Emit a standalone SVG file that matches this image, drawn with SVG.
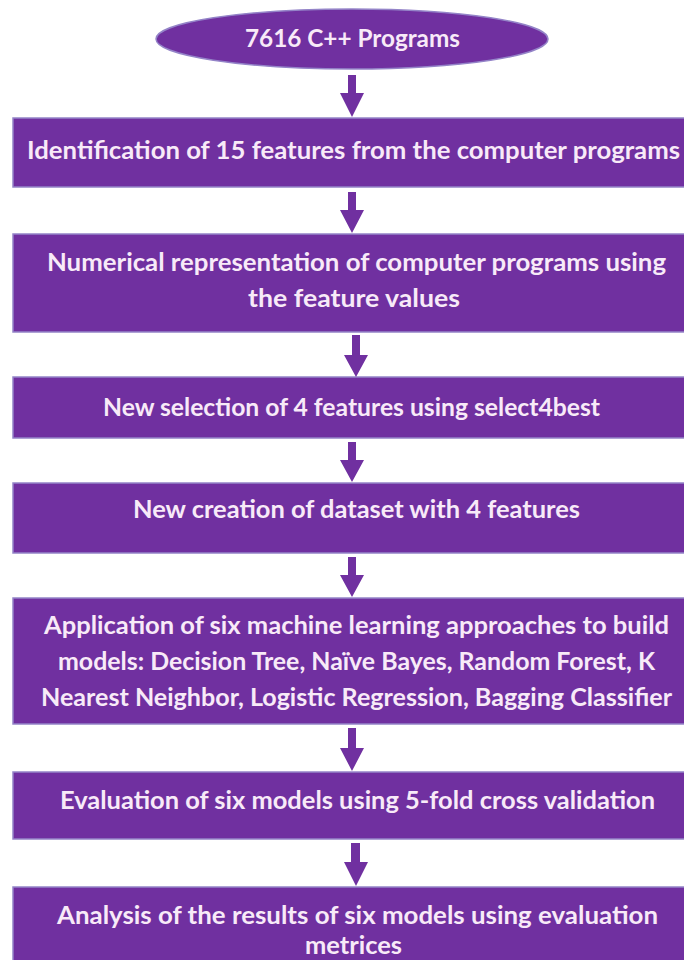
<svg xmlns="http://www.w3.org/2000/svg" width="684" height="960" viewBox="0 0 684 960">
<style>
.box{fill:#7030A0;stroke:#9484C8;stroke-width:1.5}
.t{font-family:Lato,"Open Sans","Liberation Sans",sans-serif;font-weight:bold;font-size:24px;fill:#F8EAF8;text-anchor:middle}
.arr{fill:#7030A0}
</style>
<rect width="684" height="960" fill="#ffffff"/>
<g id="n0">
<ellipse cx="352" cy="39" rx="196" ry="30" class="box"/>
<text class="t" x="352.5" y="47" textLength="215" lengthAdjust="spacingAndGlyphs">7616 C++ Programs</text>
</g>
<g id="n1">
<rect x="13" y="118" width="675" height="69" class="box"/>
<text class="t" x="353.5" y="159" textLength="653" lengthAdjust="spacingAndGlyphs">Identification of 15 features from the computer programs</text>
</g>
<g id="n2">
<rect x="13" y="234" width="675" height="98" class="box"/>
<text class="t" x="356.5" y="271" textLength="619" lengthAdjust="spacingAndGlyphs">Numerical representation of computer programs using</text>
<text class="t" x="354" y="307" textLength="212" lengthAdjust="spacingAndGlyphs">the feature values</text>
</g>
<g id="n3">
<rect x="13" y="377" width="675" height="61" class="box"/>
<text class="t" x="351.5" y="416" textLength="497" lengthAdjust="spacingAndGlyphs">New selection of 4 features using select4best</text>
</g>
<g id="n4">
<rect x="13" y="483" width="675" height="70" class="box"/>
<text class="t" x="356.5" y="518" textLength="447" lengthAdjust="spacingAndGlyphs">New creation of dataset with 4 features</text>
</g>
<g id="n5">
<rect x="13" y="598" width="675" height="126" class="box"/>
<text class="t" x="356.5" y="634" textLength="625" lengthAdjust="spacingAndGlyphs">Application of six machine learning approaches to build</text>
<text class="t" x="356.5" y="670" textLength="597" lengthAdjust="spacingAndGlyphs">models: Decision Tree, Naïve Bayes, Random Forest, K</text>
<text class="t" x="356.5" y="706" textLength="631" lengthAdjust="spacingAndGlyphs">Nearest Neighbor, Logistic Regression, Bagging Classifier</text>
</g>
<g id="n6">
<rect x="13" y="772" width="675" height="67" class="box"/>
<text class="t" x="357.5" y="809" textLength="595" lengthAdjust="spacingAndGlyphs">Evaluation of six models using 5-fold cross validation</text>
</g>
<g id="n7">
<rect x="13" y="887" width="675" height="80" class="box"/>
<text class="t" x="357.5" y="924" textLength="601" lengthAdjust="spacingAndGlyphs">Analysis of the results of six models using evaluation</text>
<text class="t" x="353.5" y="954" textLength="97" lengthAdjust="spacingAndGlyphs">metrices</text>
</g>
<g id="connectors">
<polygon class="arr" points="348,75 356,75 356,93 364,93 352,117 340,93 348,93"/>
<polygon class="arr" points="348,192 356,192 356,210 364,210 352,233 340,210 348,210"/>
<polygon class="arr" points="352,335 360,335 360,355 368,355 356,377 344,355 352,355"/>
<polygon class="arr" points="348,442 356,442 356,460 364,460 352,482 340,460 348,460"/>
<polygon class="arr" points="348,557 356,557 356,575 364,575 352,597 340,575 348,575"/>
<polygon class="arr" points="348,728 356,728 356,748 364,748 352,771 340,748 348,748"/>
<polygon class="arr" points="351,843 360,843 360,862 368,862 356,886 344,862 351,862"/>
</g>
</svg>
